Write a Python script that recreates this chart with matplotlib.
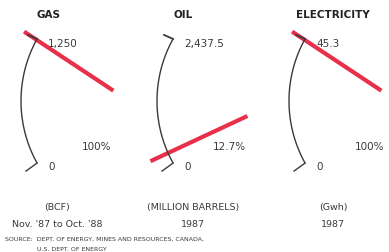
import numpy as np
import matplotlib.pyplot as plt

# gauge data
titles = ['GAS', 'OIL', 'ELECTRICITY']
max_labels = ['1,250', '2,437.5', '45.3']
min_labels = ['0', '0', '0']
pct_values = [100.0, 12.7, 100.0]
pct_labels = ['100%', '12.7%', '100%']
units = ['(BCF)', '(MILLION BARRELS)', '(Gwh)']
periods = ["Nov. '87 to Oct. '88", '1987', '1987']
source_lines = ['SOURCE:  DEPT. OF ENERGY, MINES AND RESOURCES, CANADA,',
                'U.S. DEPT. OF ENERGY']

# layout (pixels)
gauge_x = [0, 136, 268]
title_x = [49, 183, 333]
pct_x = [82, 213, 355]
unit_x = [57, 193, 333]

RED = '#e8304a'
INK = '#3a3a3a'

plt.rcParams['font.family'] = ['DejaVu Sans']

fig = plt.figure(figsize=(3.89, 2.53), dpi=100)
ax = fig.add_axes([0, 0, 1, 1])
ax.set_xlim(0, 389)
ax.set_ylim(253, 0)
ax.axis('off')

R = 128
span = 29.0
for i in range(3):
    x0 = gauge_x[i]
    cx, cy = x0 + 149, 102
    th = np.radians(np.linspace(180 - span, 180 + span, 80))
    ax_x = cx + R * np.cos(th)
    ax_y = cy - R * np.sin(th)
    ax.plot(ax_x, ax_y, color=INK, lw=1.0, zorder=3, solid_capstyle='round')
    # hooks at both ends
    ax.plot([ax_x[0], ax_x[0] - 9], [ax_y[0], ax_y[0] - 4], color=INK, lw=1.3, zorder=3)
    ax.plot([ax_x[-1], ax_x[-1] - 11], [ax_y[-1], ax_y[-1] + 8], color=INK, lw=1.0, zorder=3)

    # pointer
    f = pct_values[i] / 100.0
    phi = np.radians(213.5 - 67.0 * f)
    px, py = x0 + 135, 106
    r = np.array([26, 133])
    ax.plot(px + r * np.cos(phi), py - r * np.sin(phi), color=RED, lw=3.0,
            solid_capstyle='butt', zorder=2)

    ax.text(title_x[i], 15, titles[i], ha='center', va='center',
            fontsize=7.5, fontweight='bold', color='#222222')
    ax.text(x0 + 48, 44, max_labels[i], ha='left', va='center', fontsize=7.5, color=INK)
    ax.text(x0 + 48, 167, min_labels[i], ha='left', va='center', fontsize=7.5, color=INK)
    ax.text(pct_x[i], 147, pct_labels[i], ha='left', va='center', fontsize=7.5, color=INK)
    ax.text(unit_x[i], 208, units[i], ha='center', va='center', fontsize=6.8, color=INK)
    ax.text(unit_x[i], 225, periods[i], ha='center', va='center', fontsize=6.8, color=INK)

ax.text(5, 239, source_lines[0], ha='left', va='center', fontsize=4.5, color=INK)
ax.text(37, 250, source_lines[1], ha='left', va='center', fontsize=4.5, color=INK)

fig.savefig('out.png', dpi=100)
